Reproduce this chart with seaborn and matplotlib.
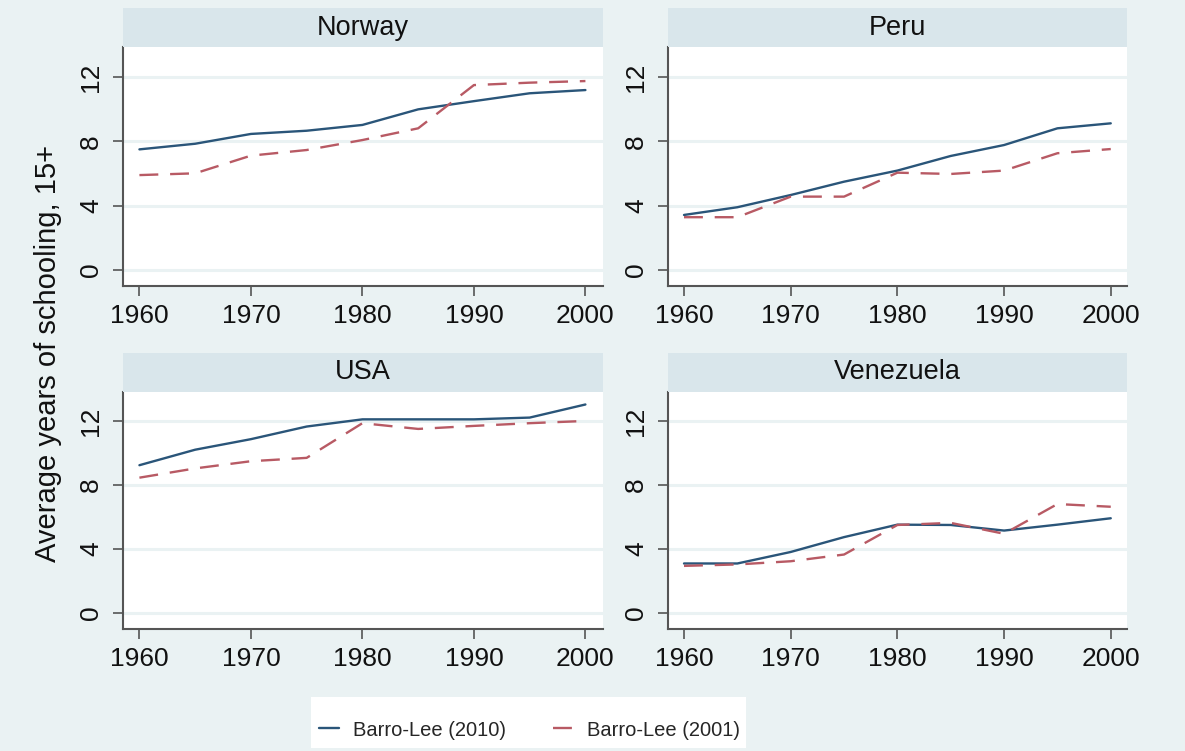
import matplotlib
matplotlib.use("Agg")
import matplotlib.pyplot as plt
import seaborn as sns
import pandas as pd
from matplotlib.patches import Rectangle
from matplotlib.lines import Line2D

# ---------------- data ----------------
years = [1960, 1965, 1970, 1975, 1980, 1985, 1990, 1995, 2000]
countries = ["Norway", "Peru", "USA", "Venezuela"]
series_names = ["Barro-Lee (2010)", "Barro-Lee (2001)"]

norway_2010 = [7.50, 7.85, 8.46, 8.66, 9.02, 9.99, 10.50, 10.99, 11.19]
norway_2001 = [5.90, 6.01, 7.11, 7.46, 8.08, 8.81, 11.50, 11.65, 11.75]
peru_2010 = [3.42, 3.90, 4.66, 5.49, 6.18, 7.09, 7.77, 8.81, 9.12]
peru_2001 = [3.28, 3.28, 4.56, 4.56, 6.05, 5.97, 6.18, 7.26, 7.52]
usa_2010 = [9.25, 10.22, 10.88, 11.67, 12.12, 12.12, 12.12, 12.23, 13.05]
usa_2001 = [8.47, 9.05, 9.50, 9.71, 11.88, 11.52, 11.71, 11.88, 12.02]
ven_2010 = [3.10, 3.10, 3.82, 4.75, 5.53, 5.51, 5.16, 5.53, 5.93]
ven_2001 = [2.95, 3.04, 3.24, 3.66, 5.51, 5.64, 4.96, 6.82, 6.65]

y_ticks = [0, 4, 8, 12]
x_ticks = [1960, 1970, 1980, 1990, 2000]
y_label = "Average years of schooling, 15+"

values = {
    "Norway": (norway_2010, norway_2001),
    "Peru": (peru_2010, peru_2001),
    "USA": (usa_2010, usa_2001),
    "Venezuela": (ven_2010, ven_2001),
}
rows = []
for c in countries:
    for sname, vals in zip(series_names, values[c]):
        for yr, v in zip(years, vals):
            rows.append({"country": c, "year": yr, "value": v, "series": sname})
df = pd.DataFrame(rows)

# ---------------- style ----------------
sns.set_style("white")
plt.rcParams["font.family"] = ["Liberation Sans", "DejaVu Sans"]

BG = "#eaf2f3"
STRIP = "#d9e6eb"
NAVY = "#2a5579"
MAROON = "#b85a64"
SPINE = "#555555"
DASH = (8, 5)

W, H = 1185, 751
fig = plt.figure(figsize=(W / 100, H / 100), dpi=100)
fig.patch.set_facecolor(BG)

# panel pixel boxes: (left, right, top, bottom)
boxes = {
    "Norway": (122.7, 602.7, 47.3, 286.0),
    "Peru": (668.0, 1127.3, 47.3, 286.0),
    "USA": (122.7, 602.7, 391.7, 629.0),
    "Venezuela": (668.0, 1127.3, 391.7, 629.0),
}
strip_h = 39.0

palette = {series_names[0]: NAVY, series_names[1]: MAROON}
dashes = {series_names[0]: "", series_names[1]: DASH}

for c in countries:
    l, r, t, b = boxes[c]
    ax = fig.add_axes([l / W, 1 - b / H, (r - l) / W, (b - t) / H])
    ax.set_facecolor("white")
    sub = df[df["country"] == c]
    sns.lineplot(data=sub, x="year", y="value", hue="series", style="series",
                 palette=palette, dashes=dashes, linewidth=1.7,
                 legend=False, ax=ax)
    ax.set_xlim(1958.5, 2001.55)
    ax.set_ylim(-1.0, 13.85)
    ax.set_xticks(x_ticks)
    ax.set_yticks(y_ticks)
    ax.set_xlabel("")
    ax.set_ylabel("")
    ax.yaxis.grid(True, color=BG, linewidth=2.2, zorder=0)
    ax.xaxis.grid(False)
    ax.set_axisbelow(True)
    for s in ["top", "right"]:
        ax.spines[s].set_visible(False)
    for s in ["left", "bottom"]:
        ax.spines[s].set_color(SPINE)
        ax.spines[s].set_linewidth(1.5)
    ax.tick_params(axis="both", which="major", length=7.2, width=1.2,
                   color=SPINE, labelsize=19, labelcolor="#111111",
                   direction="out", left=True, bottom=True)
    ax.tick_params(axis="x", pad=6)
    ax.tick_params(axis="y", pad=7, labelrotation=90)
    for lab in ax.get_yticklabels():
        lab.set_va("center")

    # strip title
    sax = fig.add_axes([l / W, 1 - t / H, (r - l) / W, strip_h / H])
    sax.set_facecolor(STRIP)
    sax.set_xticks([])
    sax.set_yticks([])
    for s in sax.spines.values():
        s.set_visible(False)
    sax.text(0.5, 0.5, c, ha="center", va="center", fontsize=19.5,
             color="#111111", transform=sax.transAxes)

# y label
fig.text(48 / W, 1 - 353 / H, y_label, rotation=90, ha="center", va="center",
         fontsize=21, color="#111111")

# legend box
fig.patches.append(Rectangle((310.7 / W, 1 - 748 / H), (745.7 - 310.7) / W,
                             (748 - 697) / H, transform=fig.transFigure,
                             facecolor="white", edgecolor="none", zorder=0))
handles = [Line2D([], [], color=NAVY, lw=1.7),
           Line2D([], [], color=MAROON, lw=1.7, dashes=DASH)]
fig.legend(handles, series_names, loc="center left",
           bbox_to_anchor=(319 / W, 1 - 730 / H), frameon=False, ncol=2,
           fontsize=14.5, handlelength=1.0, handletextpad=0.7,
           columnspacing=2.3, borderpad=0, borderaxespad=0)

fig.savefig("out.png", dpi=100, facecolor=BG)
